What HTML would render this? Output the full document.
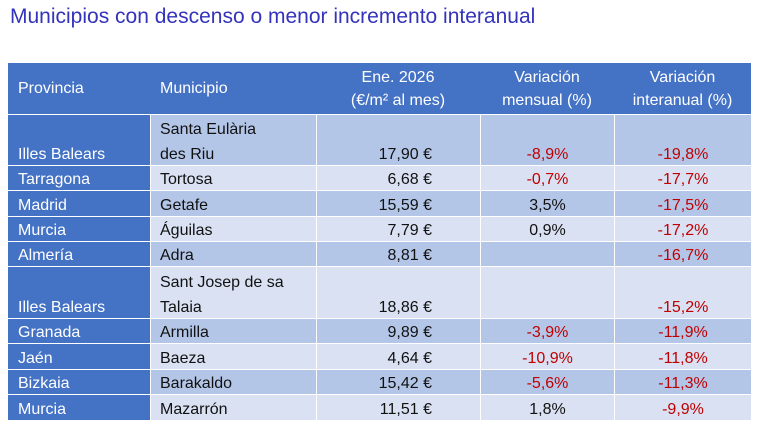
<!DOCTYPE html>
<html><head><meta charset="utf-8"><style>
body{margin:0;width:762px;height:432px;background:#fff;font-family:"Liberation Sans",sans-serif;position:relative;overflow:hidden}
.t{position:absolute;left:10px;top:5px;font-size:21px;color:#3333bb;white-space:nowrap}
.c{position:absolute;box-sizing:border-box;font-size:16px;color:#111;display:flex;align-items:flex-end;line-height:25px}
.c span{position:relative;top:2px}
.h{background:#4472C4;color:#fff;align-items:center;padding:0;line-height:23px}
.h span{top:0}
.p{background:#4472C4;color:#fff;padding-left:10px}
.l{padding-left:9px}
.r{justify-content:flex-end;padding-right:48px}
.ctr{justify-content:center;text-align:center}
.neg{color:#c00000}
</style></head><body>
<div class="t">Municipios con descenso o menor incremento interanual</div>
<div id="g"></div>
<script>
const cols=[8,150,316,480,614,751];
const rows=[[114,165],[165,190],[190,216],[216,241],[241,266],[266,318],[318,343],[343,369],[369,394],[394,420]];
const data=[
["Illes Balears","Santa Eulària<br>des Riu","17,90 €","-8,9%","-19,8%"],
["Tarragona","Tortosa","6,68 €","-0,7%","-17,7%"],
["Madrid","Getafe","15,59 €","3,5%","-17,5%"],
["Murcia","Águilas","7,79 €","0,9%","-17,2%"],
["Almería","Adra","8,81 €","","-16,7%"],
["Illes Balears","Sant Josep de sa<br>Talaia","18,86 €","","-15,2%"],
["Granada","Armilla","9,89 €","-3,9%","-11,9%"],
["Jaén","Baeza","4,64 €","-10,9%","-11,8%"],
["Bizkaia","Barakaldo","15,42 €","-5,6%","-11,3%"],
["Murcia","Mazarrón","11,51 €","1,8%","-9,9%"]];
let h='';
h+=`<div class="c h" style="left:8px;top:63px;width:743px;height:51px"></div>`;
const hd=["Provincia","Municipio","Ene. 2026<br>(€/m² al mes)","Variación<br>mensual (%)","Variación<br>interanual (%)"];
hd.forEach((t,i)=>{h+=`<div class="c h ${i<2?'l':'ctr'}" style="left:${cols[i]}px;top:63px;width:${cols[i+1]-cols[i]}px;height:51px;${i<2?'padding-left:10px':''}"><span>${t}</span></div>`});
data.forEach((r,j)=>{const [y0,y1]=rows[j];const bg=j%2==0?'#B4C6E7':'#D9E1F2';
r.forEach((t,i)=>{let cls=i==0?'p':i==1?'l':i==2?'r':'ctr';
if(i>=3&&t.startsWith('-'))cls+=' neg';
h+=`<div class="c ${cls}" style="left:${cols[i]+(i?1:0)}px;top:${y0+1}px;width:${cols[i+1]-cols[i]-(i?1:0)}px;height:${y1-y0-1}px;${i?'background:'+bg:''}"><span>${t}</span></div>`;});});
document.getElementById('g').innerHTML=h;
</script>
</body></html>
